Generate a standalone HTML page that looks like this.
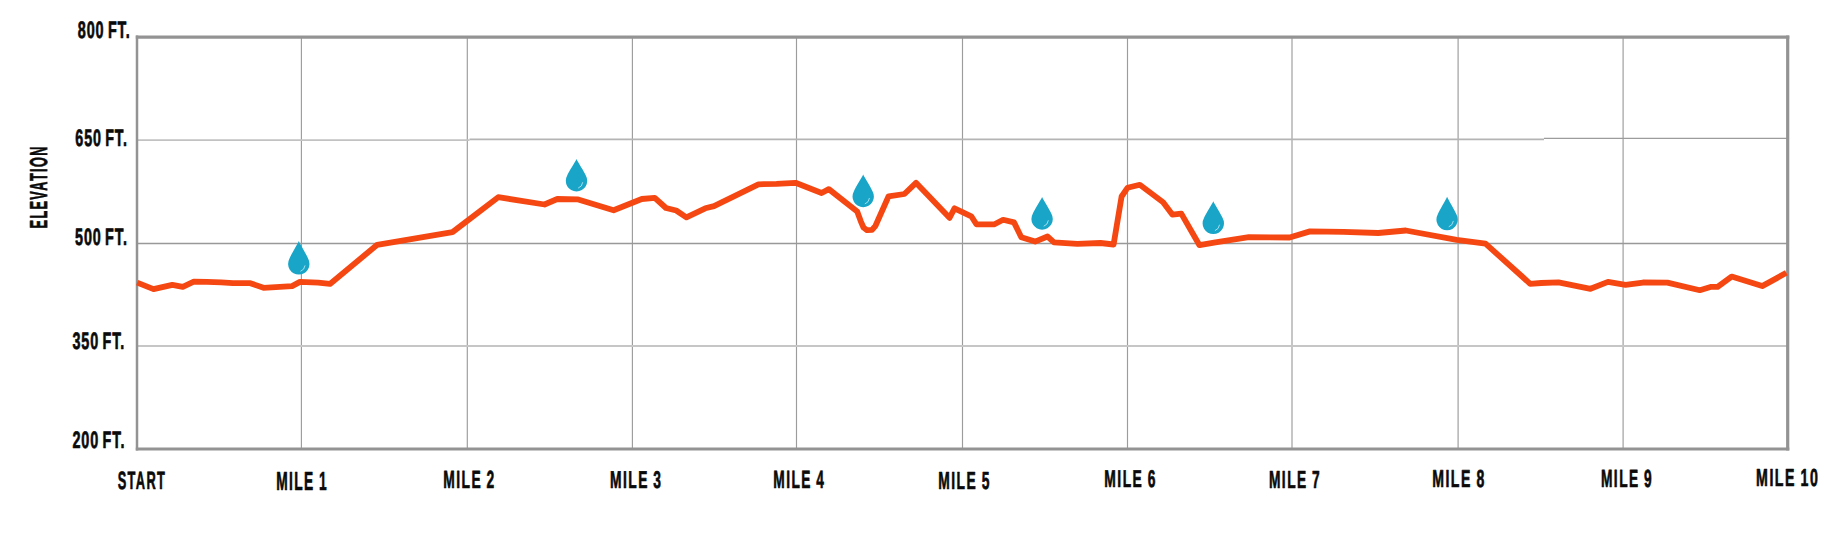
<!DOCTYPE html><html><head><meta charset="utf-8"><title>Elevation</title><style>html,body{margin:0;padding:0;background:#fff;overflow:hidden;width:1842px;height:550px;}svg{display:block;}text{font-family:"Liberation Sans",Arial,sans-serif;font-weight:bold;fill:#0a0a0a;letter-spacing:2.6px;word-spacing:-1.5px;stroke:#0a0a0a;stroke-width:0.7px;stroke-linejoin:round;text-rendering:geometricPrecision;}</style></head><body>
<svg width="1842" height="550" viewBox="0 0 1842 550">
<rect width="1842" height="550" fill="#ffffff"/>
<line x1="301.4" y1="37.2" x2="301.4" y2="449.0" stroke="#9c9c9c" stroke-width="1.15"/>
<line x1="467.3" y1="37.2" x2="467.3" y2="449.0" stroke="#9c9c9c" stroke-width="1.15"/>
<line x1="632.4" y1="37.2" x2="632.4" y2="449.0" stroke="#9c9c9c" stroke-width="1.15"/>
<line x1="796.5" y1="37.2" x2="796.5" y2="449.0" stroke="#9c9c9c" stroke-width="1.15"/>
<line x1="962.5" y1="37.2" x2="962.5" y2="449.0" stroke="#9c9c9c" stroke-width="1.15"/>
<line x1="1127.5" y1="37.2" x2="1127.5" y2="449.0" stroke="#9c9c9c" stroke-width="1.15"/>
<line x1="1292.0" y1="37.2" x2="1292.0" y2="449.0" stroke="#9c9c9c" stroke-width="1.15"/>
<line x1="1458.1" y1="37.2" x2="1458.1" y2="449.0" stroke="#9c9c9c" stroke-width="1.15"/>
<line x1="1623.1" y1="37.2" x2="1623.1" y2="449.0" stroke="#9c9c9c" stroke-width="1.15"/>
<line x1="137.0" y1="140.2" x2="469.5" y2="140.2" stroke="#c2c2c2" stroke-width="1.8"/>
<line x1="469.5" y1="139.4" x2="1544.0" y2="139.4" stroke="#b4b4b4" stroke-width="1.6"/>
<line x1="1544.0" y1="138.4" x2="1787.7" y2="138.4" stroke="#9c9c9c" stroke-width="1.3"/>
<line x1="137.0" y1="243.5" x2="1787.7" y2="243.5" stroke="#999999" stroke-width="1.5"/>
<line x1="137.0" y1="346.0" x2="1787.7" y2="346.0" stroke="#c6c6c6" stroke-width="1.8"/>
<line x1="135.8" y1="37.2" x2="1789.3" y2="37.2" stroke="#939393" stroke-width="3.2"/>
<line x1="135.8" y1="449.0" x2="1789.3" y2="449.0" stroke="#939393" stroke-width="3.0"/>
<line x1="137.0" y1="35.6" x2="137.0" y2="450.5" stroke="#939393" stroke-width="2.5"/>
<line x1="1787.7" y1="35.6" x2="1787.7" y2="450.5" stroke="#939393" stroke-width="3.2"/>
<path d="M137.2,282.6 L153.5,289.1 L172.3,284.8 L182.8,286.8 L193.8,281.6 L206.9,281.9 L221.2,282.4 L232.9,283.2 L250.4,283.2 L263.5,287.8 L292.1,286.1 L299.9,281.9 L318.2,282.6 L330.0,283.9 L377.2,244.8 L452.5,232.1 L498.2,197.2 L544.5,204.5 L557.3,199.0 L578.2,199.4 L613.6,210.3 L641.8,199.0 L654.8,197.8 L666.0,208.0 L676.2,210.5 L686.4,217.3 L705.3,208.3 L714.0,206.1 L758.4,184.3 L776.5,183.9 L795.5,182.8 L821.6,193.0 L828.8,189.1 L857.2,211.5 L860.8,221.3 L863.5,227.5 L867.0,230.2 L872.0,229.9 L875.5,225.8 L888.6,196.3 L904.4,194.0 L916.0,182.8 L949.5,217.8 L954.5,208.3 L971.3,216.3 L976.4,224.3 L994.5,224.3 L1003.1,219.8 L1014.0,222.4 L1021.3,237.2 L1035.1,241.6 L1047.5,236.5 L1054.0,242.3 L1077.3,243.8 L1100.5,243.0 L1113.6,244.5 L1121.6,196.5 L1127.5,187.8 L1139.8,184.8 L1163.1,202.3 L1172.5,214.7 L1181.3,213.6 L1199.5,245.2 L1215.5,242.3 L1248.9,237.2 L1289.6,237.5 L1310.0,231.4 L1343.3,231.9 L1378.2,233.0 L1405.8,230.5 L1456.7,239.9 L1485.5,243.6 L1530.2,283.8 L1541.1,283.0 L1558.5,282.4 L1590.5,288.8 L1608.0,281.9 L1625.5,284.8 L1642.9,282.5 L1667.4,282.6 L1699.8,290.2 L1711.3,286.8 L1717.6,286.8 L1731.6,276.6 L1762.2,286.1 L1786.4,272.8" fill="none" stroke="#f54712" stroke-width="5.8" stroke-linejoin="round" stroke-linecap="butt"/>
<path d="M298.8,240.9 C300.0,243.9 306.8,255.0 308.3,259.0 A10.7 10.7 0 1 1 289.3,259.0 C290.8,255.0 297.6,243.9 298.8,240.9Z" fill="#19a5c7"/>
<path d="M305.0,265.8 Q304.4,270.0 300.8,271.2" fill="none" stroke="#d8f6ff" stroke-opacity="0.7" stroke-width="1.0" stroke-linecap="round"/>
<path d="M576.5,159.0 C577.7,162.0 584.3,171.5 585.8,175.5 A10.7 10.7 0 1 1 567.2,175.5 C568.7,171.5 575.3,162.0 576.5,159.0Z" fill="#19a5c7"/>
<path d="M582.7,182.6 Q582.1,186.8 578.5,188.0" fill="none" stroke="#d8f6ff" stroke-opacity="0.7" stroke-width="1.0" stroke-linecap="round"/>
<path d="M863.2,174.5 C864.4,177.5 871.1,187.4 872.6,191.4 A10.7 10.7 0 1 1 853.8,191.4 C855.3,187.4 862.0,177.5 863.2,174.5Z" fill="#19a5c7"/>
<path d="M869.4,198.4 Q868.8,202.6 865.2,203.8" fill="none" stroke="#d8f6ff" stroke-opacity="0.7" stroke-width="1.0" stroke-linecap="round"/>
<path d="M1042.1,196.9 C1043.3,199.9 1049.9,209.7 1051.4,213.7 A10.7 10.7 0 1 1 1032.8,213.7 C1034.3,209.7 1040.9,199.9 1042.1,196.9Z" fill="#19a5c7"/>
<path d="M1048.3,220.7 Q1047.7,224.9 1044.1,226.1" fill="none" stroke="#d8f6ff" stroke-opacity="0.7" stroke-width="1.0" stroke-linecap="round"/>
<path d="M1213.3,201.3 C1214.5,204.3 1221.1,214.1 1222.6,218.1 A10.7 10.7 0 1 1 1204.0,218.1 C1205.5,214.1 1212.1,204.3 1213.3,201.3Z" fill="#19a5c7"/>
<path d="M1219.5,225.1 Q1218.9,229.3 1215.3,230.5" fill="none" stroke="#d8f6ff" stroke-opacity="0.7" stroke-width="1.0" stroke-linecap="round"/>
<path d="M1447.1,196.7 C1448.3,199.7 1455.0,210.5 1456.5,214.5 A10.7 10.7 0 1 1 1437.7,214.5 C1439.2,210.5 1445.9,199.7 1447.1,196.7Z" fill="#19a5c7"/>
<path d="M1453.3,221.3 Q1452.7,225.5 1449.1,226.7" fill="none" stroke="#d8f6ff" stroke-opacity="0.7" stroke-width="1.0" stroke-linecap="round"/>
<g style="font-size:25.5px">
<text x="77.77" y="38.49" textLength="52.86" lengthAdjust="spacingAndGlyphs" font-size="23.76" style="word-spacing:-2.6px;letter-spacing:1.5px">800 FT.</text>
<text x="75.34" y="145.79" textLength="52.47" lengthAdjust="spacingAndGlyphs" font-size="23.76" style="word-spacing:-2.6px;letter-spacing:1.5px">650 FT.</text>
<text x="75.06" y="244.94" textLength="52.77" lengthAdjust="spacingAndGlyphs" font-size="23.68" style="word-spacing:-2.6px;letter-spacing:1.5px">500 FT.</text>
<text x="72.46" y="349.33" textLength="52.73" lengthAdjust="spacingAndGlyphs" font-size="23.72" style="word-spacing:-2.6px;letter-spacing:1.5px">350 FT.</text>
<text x="72.44" y="448.41" textLength="52.86" lengthAdjust="spacingAndGlyphs" font-size="23.77" style="word-spacing:-2.6px;letter-spacing:1.5px">200 FT.</text>
<text x="117.69" y="489.46" textLength="48.56" lengthAdjust="spacingAndGlyphs" font-size="25.00">START</text>
<text x="276.16" y="489.53" textLength="51.76" lengthAdjust="spacingAndGlyphs" font-size="26.17">MILE 1</text>
<text x="443.25" y="488.42" textLength="52.39" lengthAdjust="spacingAndGlyphs" font-size="24.80">MILE 2</text>
<text x="610.05" y="487.83" textLength="52.47" lengthAdjust="spacingAndGlyphs" font-size="24.28">MILE 3</text>
<text x="773.29" y="488.42" textLength="51.95" lengthAdjust="spacingAndGlyphs" font-size="25.07">MILE 4</text>
<text x="938.36" y="488.58" textLength="52.43" lengthAdjust="spacingAndGlyphs" font-size="24.66">MILE 5</text>
<text x="1104.36" y="487.49" textLength="52.59" lengthAdjust="spacingAndGlyphs" font-size="24.34">MILE 6</text>
<text x="1268.98" y="487.53" textLength="52.16" lengthAdjust="spacingAndGlyphs" font-size="24.71">MILE 7</text>
<text x="1432.23" y="487.39" textLength="53.52" lengthAdjust="spacingAndGlyphs" font-size="24.47">MILE 8</text>
<text x="1600.99" y="486.78" textLength="52.08" lengthAdjust="spacingAndGlyphs" font-size="24.80">MILE 9</text>
<text x="1756.12" y="486.25" textLength="63.15" lengthAdjust="spacingAndGlyphs" font-size="24.67">MILE 10</text>
</g>
<g transform="rotate(-90)" style="font-size:25.5px"><text x="-228.48" y="46.73" textLength="83.21" lengthAdjust="spacingAndGlyphs" font-size="24.52">ELEVATION</text></g>
</svg></body></html>
